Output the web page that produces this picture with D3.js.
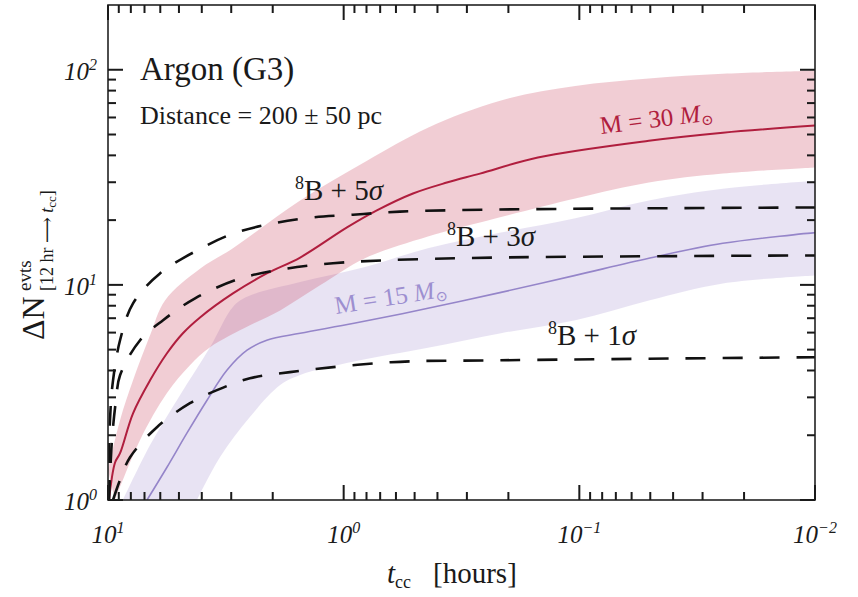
<!DOCTYPE html>
<html>
<head>
<meta charset="utf-8">
<script src="https://cdnjs.cloudflare.com/ajax/libs/d3/7.8.5/d3.min.js"></script>
<style>
  body { margin: 0; background: #fff; }
  svg text { font-family: "Liberation Serif", "DejaVu Serif", serif; fill: #1a1a1a; }
</style>
</head>
<body>
<div id="draw_chart"></div>
<script>
// values: [t_cc in hours, events]
var redMid = [[9.9, 1], [9.34, 1.49], [8.89, 1.65], [7.83, 2.53], [6.63, 3.6], [5.62, 4.81], [4.81, 5.96],
  [4.07, 7.06], [2.95, 9.13], [2.12, 11.3], [1.53, 13.4], [0.968, 18.5], [0.723, 22.2], [0.508, 26.6],
  [0.365, 29.9], [0.264, 32.9], [0.15, 39.1], [0.0507, 46.8], [0.0246, 51], [0.01, 55]];
var redHigh = [[10, 1.38], [8.89, 2.35], [7.83, 3.6], [6.63, 5.83], [5.73, 8.47], [4.07, 11.9], [2.95, 14.8],
  [1.53, 24.7], [0.796, 37.8], [0.439, 53.8], [0.215, 72], [0.104, 84], [0.0507, 91], [0.0246, 95.8], [0.01, 98.9]];
var redLow = [[9.34, 1], [7.31, 1.9], [5.62, 3.14], [4.49, 4.23], [3.69, 5.13], [2.5, 6.49], [1.86, 7.61],
  [1.26, 9.95], [0.812, 13.3], [0.439, 16.8], [0.264, 19.5], [0.104, 25.2], [0.0507, 29.9], [0.0246, 32.9], [0.01, 35.1]];
var purpleMid = [[6.83, 1], [5.62, 1.42], [4.62, 2.05], [3.8, 2.91], [3.13, 4.01], [2.57, 4.97], [2.12, 5.53],
  [1.53, 5.96], [0.904, 6.63], [0.439, 7.78], [0.215, 9.23], [0.104, 11.07], [0.0507, 13.3], [0.0246, 15.6], [0.01, 17.5]];
var purpleHigh = [[8.64, 1], [6.63, 1.8], [4.95, 3.07], [3.69, 5.13], [2.95, 7.9], [2.57, 8.8], [1.53, 10.3],
  [0.812, 12.1], [0.439, 14.8], [0.215, 17.5], [0.104, 20.4], [0.0507, 24.7], [0.0246, 28], [0.01, 30.5]];
var purpleLow = [[4.19, 1], [3.35, 1.58], [2.5, 2.43], [1.86, 3.42], [1.53, 3.81], [0.904, 4.4], [0.439, 5.1],
  [0.215, 5.96], [0.104, 6.85], [0.0507, 8.47], [0.0246, 10.16], [0.01, 11.07]];
var sigma5 = [[9.95, 1], [9.81, 2.35], [9.52, 3.6], [8.89, 5.53], [7.83, 8.21], [6.02, 11.3], [4.19, 14.45],
  [2.95, 17.3], [2.0, 19.3], [1.35, 20.6], [0.913, 21.2], [0.577, 21.9], [0.22, 22.4], [0.01, 22.9]];
var sigma3 = [[9.9, 1], [9.62, 1.9], [9.25, 2.91], [8.89, 3.8], [7.31, 5.53], [5.84, 6.85], [4.27, 8.66],
  [2.75, 10.7], [1.74, 11.9], [1.11, 12.6], [0.681, 13.0], [0.22, 13.4], [0.01, 13.7]];
var sigma1 = [[9.52, 1], [8.89, 1.24], [8.06, 1.58], [6.2, 2.18], [4.49, 2.82], [3.45, 3.24], [2.5, 3.68],
  [1.69, 3.93], [0.63, 4.37], [0.22, 4.46], [0.01, 4.61]];
// tick labels (powers of ten)
var xTickExp = [1, 0, -1, -2];
var yTickExp = [0, 1, 2];

var width = 858;
var height = 597;
// plot box edges
var boxL = 108, boxR = 815, boxT = 5, boxB = 500;

var svg = d3.select("#draw_chart").append("svg")
  .attr("width", width).attr("height", height);

var xScale = d3.scaleLog().domain([10, 0.01]).range([boxL, boxR]);
var yScale = d3.scaleLog().domain([1, 200]).range([boxB, boxT]);

svg.append("clipPath").attr("id", "plotClip").append("rect")
  .attr("x", boxL).attr("y", boxT).attr("width", boxR - boxL).attr("height", boxB - boxT);

var plot = svg.append("g").attr("clip-path", "url(#plotClip)");

var lineGen = d3.line()
  .x(function(d) { return xScale(d[0]); })
  .y(function(d) { return yScale(d[1]); })
  .curve(d3.curveCatmullRom.alpha(0.5));

// band = upper edge, then lower edge going back
function bandPath(hi, lo) {
  return lineGen(hi) + lineGen(lo.slice().reverse()).replace(/^M/, "L") + "Z";
}

// shaded bands
plot.append("path").attr("d", bandPath(purpleHigh, purpleLow))
  .attr("fill", "#8264be").attr("fill-opacity", 0.18);
plot.append("path").attr("d", bandPath(redHigh, redLow))
  .attr("fill", "#c83c5a").attr("fill-opacity", 0.26);

// central lines
plot.append("path").attr("d", lineGen(purpleMid))
  .attr("fill", "none").attr("stroke", "#9585c9").attr("stroke-width", 1.6);
plot.append("path").attr("d", lineGen(redMid))
  .attr("fill", "none").attr("stroke", "#b01e3e").attr("stroke-width", 2);

// background + n sigma lines
[sigma5, sigma3, sigma1].forEach(function(s) {
  plot.append("path").attr("d", lineGen(s))
    .attr("fill", "none").attr("stroke", "#111").attr("stroke-width", 2.6)
    .attr("stroke-dasharray", "20,17");
});

// frame
svg.append("rect").attr("x", boxL).attr("y", boxT)
  .attr("width", boxR - boxL).attr("height", boxB - boxT)
  .attr("fill", "none").attr("stroke", "#222").attr("stroke-width", 1.6);

// tick positions: decades get long ticks, 2..9 short ones
var xTicks = [];
[10, 1, 0.1, 0.01].forEach(function(p) { xTicks.push({v: p, len: 15}); });
[1, 0.1, 0.01].forEach(function(p) {
  for (var k = 2; k <= 9; k++) xTicks.push({v: k * p, len: 8});
});
var yTicks = [];
[1, 10, 100].forEach(function(p) {
  yTicks.push({v: p, len: 15});
  for (var k = 2; k <= 9; k++) if (k * p < 200) yTicks.push({v: k * p, len: 8});
});

// ticks as thin filled rects, pointing inwards on all four sides
var tickG = svg.append("g").attr("fill", "#1a1a1a");
xTicks.forEach(function(d) {
  var px = xScale(d.v);
  tickG.append("rect").attr("x", px - 1).attr("y", boxB - d.len).attr("width", 2).attr("height", d.len);
  tickG.append("rect").attr("x", px - 1).attr("y", boxT).attr("width", 2).attr("height", d.len);
});
yTicks.forEach(function(d) {
  var py = yScale(d.v);
  tickG.append("rect").attr("x", boxL).attr("y", py - 1).attr("width", d.len).attr("height", 2);
  tickG.append("rect").attr("x", boxR - d.len).attr("y", py - 1).attr("width", d.len).attr("height", 2);
});

// tick labels
function expLabel(sel) {
  sel.append("tspan").text("10");
  sel.append("tspan").attr("dy", -10).attr("font-size", 16)
    .text(function(d) { return d < 0 ? "\u2212" + (-d) : d; });
}
svg.selectAll(".xLab").data(xTickExp).enter().append("text")
  .attr("class", "xLab")
  .attr("x", function(d) { return xScale(Math.pow(10, d)); })
  .attr("y", 543).attr("text-anchor", "middle")
  .attr("font-size", 25).attr("font-style", "italic").call(expLabel);
svg.selectAll(".yLab").data(yTickExp).enter().append("text")
  .attr("class", "yLab").attr("x", 97)
  .attr("y", function(d) { return yScale(Math.pow(10, d)) + 10; })
  .attr("text-anchor", "end")
  .attr("font-size", 25).attr("font-style", "italic").call(expLabel);

// axis titles
var xTitle = svg.append("text").attr("x", 387).attr("y", 583).attr("font-size", 29);
xTitle.append("tspan").attr("font-style", "italic").text("t");
xTitle.append("tspan").attr("font-size", 18).attr("dy", 5).text("cc");
xTitle.append("tspan").attr("dy", -5).attr("dx", 22).text("[hours]");

svg.append("text").attr("transform", "translate(44,340) rotate(-90)")
  .attr("font-size", 32).text("\u0394N");
svg.append("text").attr("transform", "translate(31,291) rotate(-90)")
  .attr("font-size", 19).text("evts");
var ySub = svg.append("text").attr("transform", "translate(53,291) rotate(-90)")
  .attr("font-size", 18);
ySub.append("tspan").text("[12 hr \u27F6 ");
ySub.append("tspan").attr("font-style", "italic").text("t");
ySub.append("tspan").attr("font-size", 13).attr("dy", 3).text("cc");
ySub.append("tspan").attr("dy", -3).text("]");

// header texts
svg.append("text").attr("x", 140).attr("y", 80).attr("font-size", 33).text("Argon (G3)");
svg.append("text").attr("x", 140).attr("y", 124).attr("font-size", 26).text("Distance = 200 \u00B1 50 pc");

// background labels
function sigmaLabel(x, y, n) {
  var t = svg.append("text").attr("x", x).attr("y", y).attr("font-size", 29);
  t.append("tspan").attr("font-size", 18).attr("dy", -11).text("8");
  t.append("tspan").attr("dy", 11).text("B + " + n);
  t.append("tspan").attr("font-style", "italic").text("\u03C3");
}
sigmaLabel(295, 200, 5);
sigmaLabel(447, 246, 3);
sigmaLabel(548, 345, 1);

// mass labels
function massLabel(x, y, ang, m, col) {
  var t = svg.append("text").attr("transform", "translate(" + x + "," + y + ") rotate(" + ang + ")")
    .attr("font-size", 25).style("fill", col);
  t.append("tspan").text("M = " + m + " ");
  t.append("tspan").attr("font-style", "italic").text("M");
  t.append("tspan").attr("font-size", 15).attr("dy", 4).text("\u2299");
}
massLabel(601, 134, -7, 30, "#b01e3e");
massLabel(336, 314, -9, 15, "#9d8fd0");
</script>
</body>
</html>
